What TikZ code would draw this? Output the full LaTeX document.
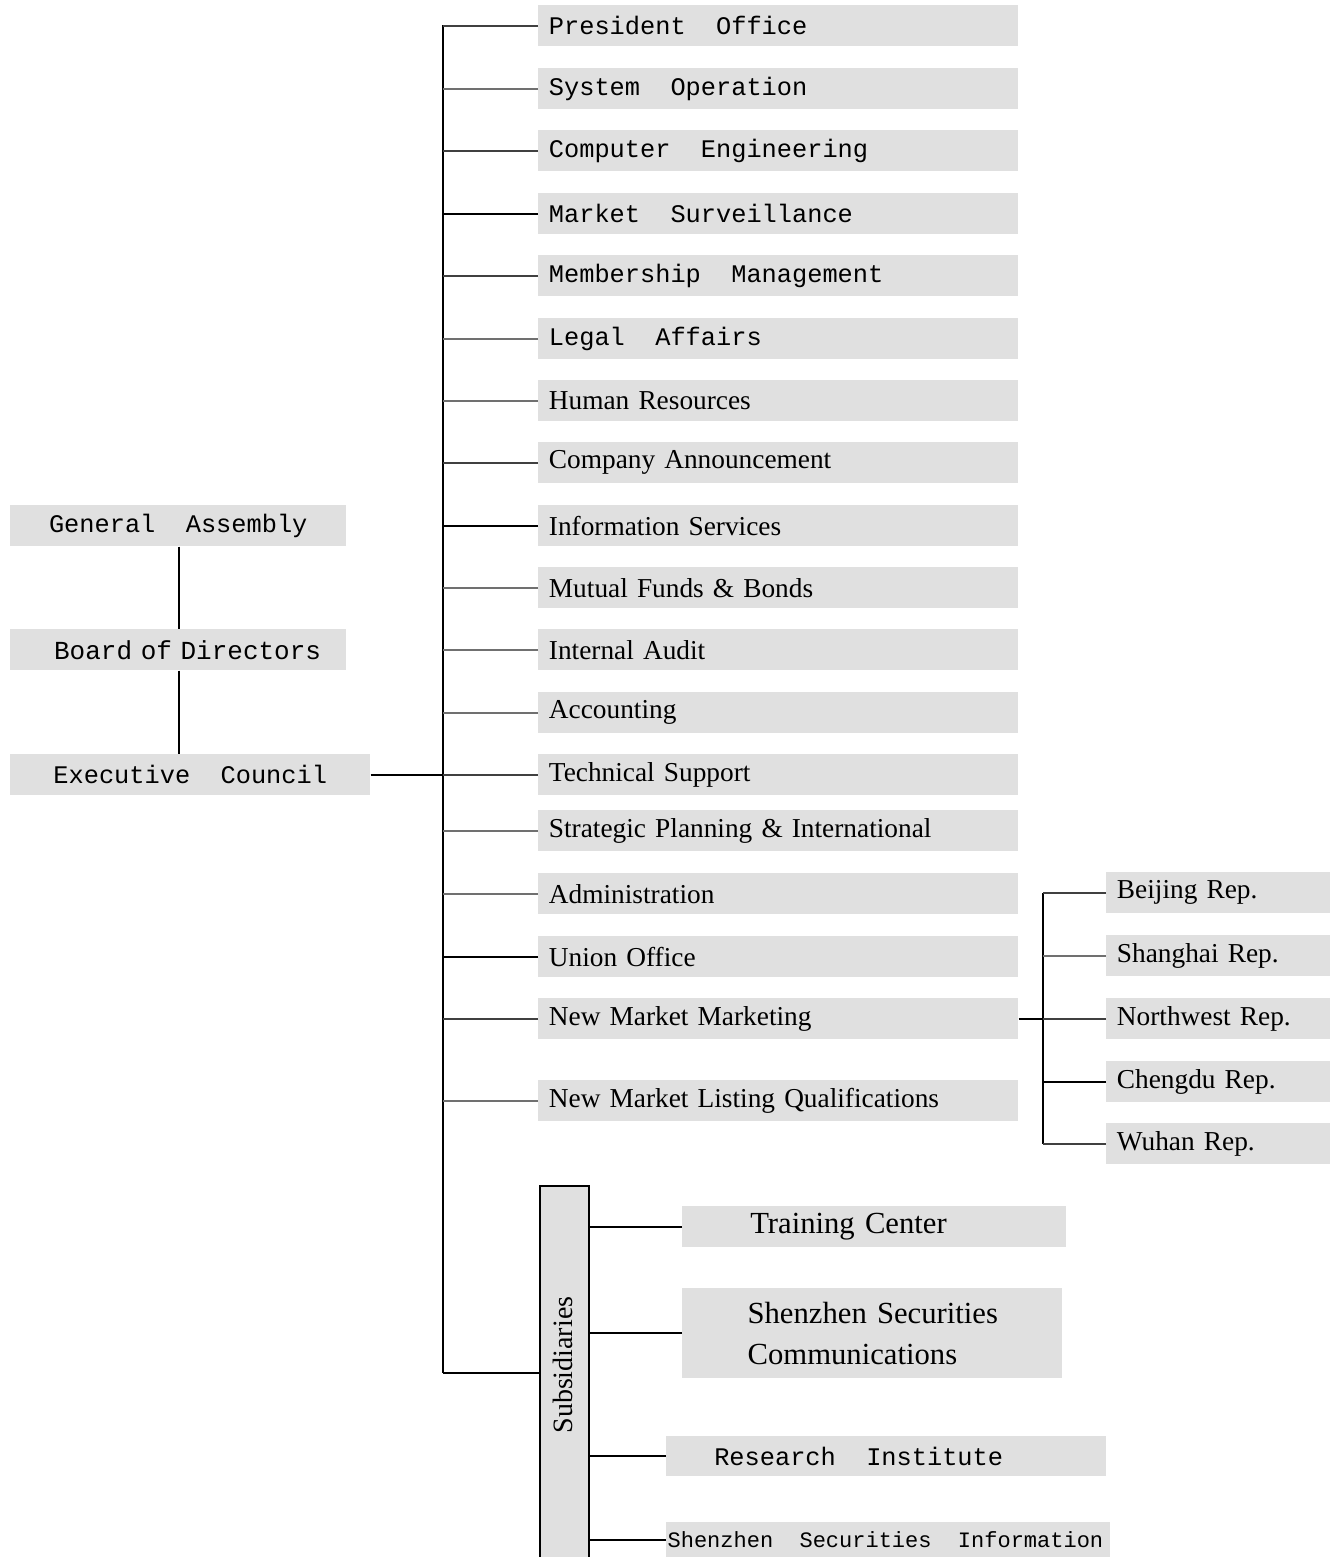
\documentclass[tikz,border=0pt]{standalone}
\usepackage{fontspec}
\setmainfont{Liberation Serif}
\newfontfamily\monof{Liberation Mono}
\definecolor{boxgray}{HTML}{E0E0E0}
\definecolor{lnA}{HTML}{000000}
\definecolor{lnB}{HTML}{404040}
\definecolor{lnC}{HTML}{707070}
\newcommand\dmono{\monof\fontsize{19}{24}\selectfont}
\newcommand\dserif{\fontsize{20.5}{24}\selectfont}
\newcommand\sserif{\fontsize{23}{30.75}\selectfont}
\newcommand\smono{\monof\fontsize{16.5}{21}\selectfont}
\newcommand\msp{\hspace*{1.2em}}
\begin{document}
\begin{tikzpicture}[x=0.75pt,y=-0.75pt,
  box/.style={fill=boxgray,draw=none,anchor=north west,inner xsep=8pt,inner ysep=0pt,minimum height=30.75pt,align=left},
  dept/.style={box,text width=344pt},
  topbox/.style={box,align=center},
  rep/.style={box,text width=152pt,font=\dserif},
  conn/.style={line width=1.6pt},
  ]
\useasboundingbox (0,0) rectangle (1337,1557);

% left column
\node[topbox,text width=236pt,font=\dmono] (ga) at (10,505) {General\msp Assembly};
\node[topbox,text width=236pt,font=\monof\fontsize{19.5}{24}\selectfont] (bod) at (10,629) {\hspace*{14pt}Board of Directors};
\node[topbox,text width=254pt,font=\dmono] (ec) at (10,754) {Executive\msp Council};
\coordinate (vx) at (179,0);
\draw[conn] (ga.south -| vx) -- (bod.north -| vx);
\draw[conn] (bod.south -| vx) -- (ec.north -| vx);

% main trunk
\coordinate (tt) at (443,25);
\coordinate (tb) at (443,1373);
\draw[conn] (tt) -- (tb);
\draw[conn] (ec.east) -- (ec.east -| tt);

% departments
\node[dept,font=\dmono] (d1) at (538,5) {President\msp Office};
\node[dept,font=\dmono] (d2) at (538,68) {System\msp Operation};
\node[dept,font=\dmono] (d3) at (538,130) {Computer\msp Engineering};
\node[dept,font=\dmono] (d4) at (538,193) {Market\msp Surveillance};
\node[dept,font=\dmono] (d5) at (538,255) {Membership\msp Management};
\node[dept,font=\dmono] (d6) at (538,318) {Legal\msp Affairs};
\node[dept,font=\dserif] (d7) at (538,380) {Human Resources};
\node[dept,font=\dserif] (d8) at (538,442) {Company Announcement};
\node[dept,font=\dserif] (d9) at (538,505) {Information Services};
\node[dept,font=\dserif] (d10) at (538,567) {Mutual Funds \& Bonds};
\node[dept,font=\dserif] (d11) at (538,629) {Internal Audit};
\node[dept,font=\dserif] (d12) at (538,692) {Accounting};
\node[dept,font=\dserif] (d13) at (538,754) {Technical Support};
\node[dept,font=\dserif] (d14) at (538,810) {Strategic Planning \& International};
\node[dept,font=\dserif] (d15) at (538,873) {Administration};
\node[dept,font=\dserif] (d16) at (538,936) {Union Office};
\node[dept,font=\dserif] (d17) at (538,998) {New Market Marketing};
\node[dept,font=\dserif] (d18) at (538,1080) {New Market Listing Qualifications};

\foreach \n/\c in {d1/lnB,d2/lnC,d3/lnB,d4/lnA,d5/lnB,d6/lnC,d7/lnC,d8/lnB,d9/lnA,
                   d10/lnC,d11/lnC,d12/lnC,d13/lnB,d14/lnC,d15/lnC,d16/lnA,d17/lnB,d18/lnC}
  \draw[conn,draw=\c] (\n.west) -- (\n.west -| tt);

% representative offices
\node[rep] (r1) at (1106,872) {Beijing Rep.};
\node[rep] (r2) at (1106,935) {Shanghai Rep.};
\node[rep] (r3) at (1106,998) {Northwest Rep.};
\node[rep] (r4) at (1106,1061) {Chengdu Rep.};
\node[rep] (r5) at (1106,1123) {Wuhan Rep.};
\coordinate (rt) at (1043,893);
\coordinate (rb) at (1043,1144);
\draw[conn] (rt) -- (rb);
\draw[conn] (d17.east) -- (d17.east -| rt);
\foreach \n/\c in {r1/lnB,r2/lnC,r3/lnB,r4/lnA,r5/lnB}
  \draw[conn,draw=\c] (\n.west) -- (\n.west -| rt);

% subsidiaries
\node[draw=black,line width=1.6pt,fill=boxgray,anchor=north west,minimum width=36.75pt,minimum height=320pt,inner sep=0pt] (subs) at (539,1185) {};
\node[rotate=90,font=\fontsize{21}{24}\selectfont] (subl) at (563,1365) {Subsidiaries};
\draw[conn] (tb) -- (tb -| subs.west);

\node[box,text width=272pt,font=\sserif] (s1) at (682,1206) {\hspace*{43pt}Training Center};
\node[box,text width=269pt,minimum height=67.5pt,font=\sserif] (s2) at (682,1288) {\hspace*{41pt}Shenzhen Securities\\\hspace*{41pt}Communications};
\node[box,text width=314pt,minimum height=30pt,font=\dmono] (s3) at (666,1436) {\hspace*{28pt}Research\msp Institute};
\node[box,inner xsep=1pt,text width=331pt,minimum height=26.25pt,font=\smono] (s4) at (666,1522) {Shenzhen\msp Securities\msp Information};
\foreach \n in {s1,s2,s3,s4}
  \draw[conn] (\n.west) -- (\n.west -| subs.east);
\end{tikzpicture}
\end{document}
